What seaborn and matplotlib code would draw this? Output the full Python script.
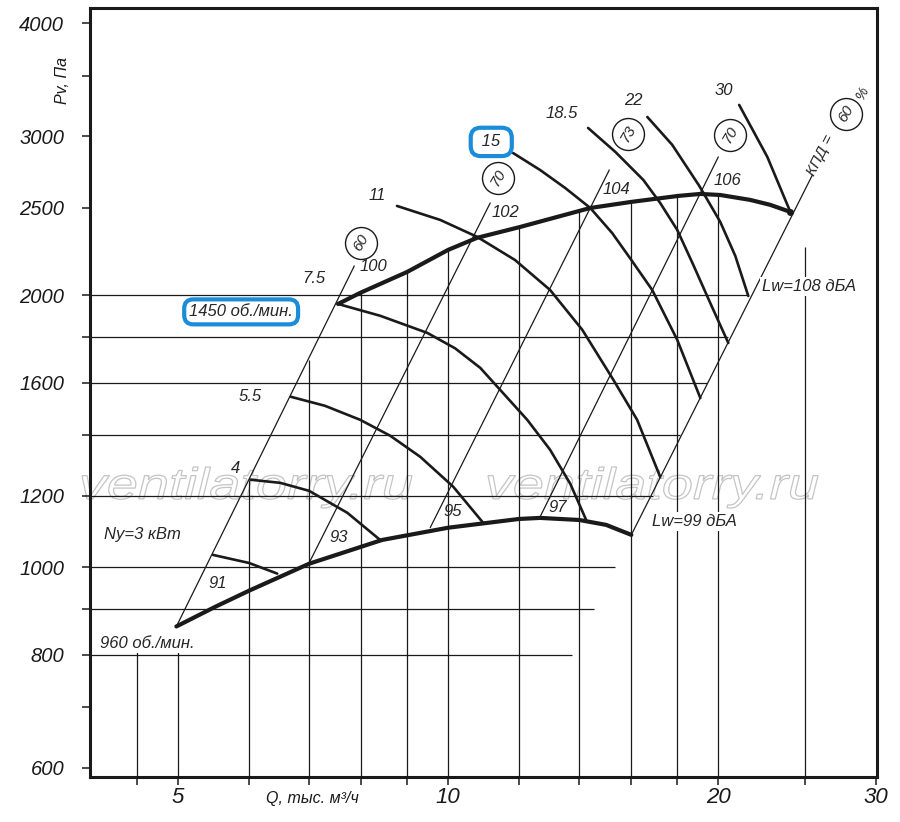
import matplotlib
matplotlib.use('Agg')
import matplotlib.pyplot as plt
import seaborn as sns
from matplotlib.ticker import FixedLocator, FixedFormatter, NullLocator
from matplotlib.textpath import TextPath
from matplotlib.patches import PathPatch
from matplotlib.font_manager import FontProperties
from matplotlib.transforms import Affine2D

# values: Q in thousand m3/h, Pv in Pa

# bold boundary at 960 rpm
q_960 = [4.98, 5.5, 6.0, 7.0, 8.44, 10.0, 12.0, 12.66, 14.0, 15.0, 16.0]
p_960 = [860, 904, 942, 1009, 1072, 1106, 1131, 1134, 1128, 1114, 1086]

# bold boundary at 1450 rpm
q_1450 = [7.54, 7.98, 9.0, 10.0, 10.77, 12.03, 14.4, 16.0, 18.05, 19.1, 20.1, 21.7, 22.85, 24.06]
p_1450 = [1956, 2012, 2122, 2245, 2315, 2380, 2498, 2537, 2576, 2589, 2582, 2550, 2518, 2473]

# motor power curves (kW)
q_3 = [5.47, 6.0, 6.45]
p_3 = [1032, 1011, 984]
q_4 = [6.02, 6.50, 7.0, 7.72, 8.40]
p_4 = [1250, 1240, 1215, 1149, 1072]
q_5_5 = [6.68, 7.29, 7.98, 8.62, 9.31, 10.13, 10.94]
p_5_5 = [1544, 1509, 1456, 1398, 1325, 1228, 1120]
q_7_5 = [7.54, 8.40, 9.48, 10.18, 10.86, 12.25, 12.99, 13.68, 14.25]
p_7_5 = [1956, 1898, 1817, 1747, 1662, 1456, 1349, 1237, 1128]
q_11 = [8.77, 9.80, 10.77, 11.87, 12.99, 14.11, 15.28, 16.24, 17.23]
p_11 = [2511, 2423, 2321, 2188, 2027, 1831, 1612, 1456, 1259]
q_15 = [11.81, 12.66, 13.50, 14.40, 15.23, 16.0, 16.88, 18.0, 19.10]
p_15 = [2874, 2752, 2629, 2498, 2344, 2188, 2027, 1785, 1539]
q_18_5 = [14.32, 15.36, 16.50, 17.23, 18.0, 18.76, 19.59, 20.52]
p_18_5 = [3063, 2881, 2683, 2530, 2362, 2160, 1961, 1771]
q_22 = [16.67, 17.77, 19.05, 20.10, 20.89, 21.60]
p_22 = [3150, 2934, 2642, 2411, 2211, 1996]
q_30 = [21.10, 22.68, 24.06]
p_30 = [3248, 2845, 2473]

# noise lines Lw, dB(A): 960 rpm end -> 1450 rpm end
lw_low = [91, 93, 95, 97, 99]
lw_high = [100, 102, 104, 106, 108]
lw_q0 = [4.98, 7.0, 9.55, 12.66, 16.0]
lw_p0 = [860, 1011, 1106, 1137, 1086]
lw_q1 = [7.86, 11.14, 15.12, 20.0, 25.46]
lw_p1 = [2155, 2530, 2752, 2845, 2717]

# drawn grid, with the extent of each line
h_grid_p = [800, 900, 1000, 1200, 1400, 1600, 1800, 2000]
h_grid_q_end = [13.75, 14.55, 15.36, 16.92, 18.14, 19.44, 20.5, 21.6]
v_grid_q = [4.5, 5, 6, 7, 8, 9, 10, 12, 14, 16, 18, 20, 25]
v_grid_p_top = [806, 806, 1250, 1696, 2013, 2122, 2245, 2380, 2485, 2537, 2576, 2582, 2262]

x_ticks = [4.5, 5, 6, 7, 8, 9, 10, 12, 14, 16, 18, 20, 25, 30]
x_ticklabels = ['', '5', '', '', '', '', '10', '', '', '', '', '20', '', '30']
y_ticks = [600, 700, 800, 900, 1000, 1200, 1400, 1600, 1800, 2000, 2500, 3000, 3500, 4000]
y_ticklabels = ['600', '', '800', '', '1000', '1200', '', '1600', '', '2000', '2500', '3000', '', '4000']

sns.set_theme(style='white')
plt.rcParams['font.family'] = ['Liberation Sans', 'DejaVu Sans']
plt.rcParams['font.style'] = 'italic'
plt.rcParams['mathtext.default'] = 'regular'

W, H = 900, 822
fig = plt.figure(figsize=(W / 100, H / 100), dpi=100)
ax = fig.add_axes([90 / W, 45 / H, 787 / W, 769 / H])
ax.set_xscale('log')
ax.set_yscale('log')
xmin, xmax, ymin, ymax = 3.99, 30.05, 586, 4158
ax.set_xlim(xmin, xmax)
ax.set_ylim(ymin, ymax)

# watermark, outlined
fp = FontProperties(family='Liberation Sans', style='italic')
tp = TextPath((0, 0), 'ventilatorry.ru', size=1, prop=fp)
bb = tp.get_extents()
for x0 in (82, 488):
    tr = Affine2D().translate(-bb.x0, -bb.y0).scale(330 / bb.width, 41 / bb.height).translate(x0, H - 508)
    wm = PathPatch(tp, transform=tr, fc='white', ec='#c4c4c4', lw=0.9, zorder=0.5, clip_on=False)
    ax.add_patch(wm)

# grid segments
ax.hlines(h_grid_p, xmin, h_grid_q_end, color='k', lw=0.9, zorder=1)
ax.vlines(v_grid_q, ymin, v_grid_p_top, color='k', lw=0.9, zorder=1)

# noise diagonals
for i in range(len(lw_low)):
    sns.lineplot(x=[lw_q0[i], lw_q1[i]], y=[lw_p0[i], lw_p1[i]], ax=ax, color='k',
                 lw=0.9, sort=False, estimator=None, zorder=2)

# power curves
power_curves = [(q_3, p_3), (q_4, p_4), (q_5_5, p_5_5), (q_7_5, p_7_5), (q_11, p_11),
                (q_15, p_15), (q_18_5, p_18_5), (q_22, p_22), (q_30, p_30)]
for q, p in power_curves:
    sns.lineplot(x=q, y=p, ax=ax, color='k', lw=1.9, sort=False, estimator=None, zorder=3)

# bold rpm boundaries
sns.lineplot(x=q_960, y=p_960, ax=ax, color='k', lw=3.0, sort=False, estimator=None, zorder=4)
sns.lineplot(x=q_1450, y=p_1450, ax=ax, color='k', lw=3.0, sort=False, estimator=None, zorder=4)
ax.plot(q_1450[-1:], p_1450[-1:], marker='o', ms=4, color='k', zorder=4)

# labels
white = dict(boxstyle='square,pad=0.12', fc='white', ec='none')
blue = dict(boxstyle='round,pad=0.3,rounding_size=0.55', fc='white', ec='#1a8cd8', lw=3)
labels = [
    ('Ny=3 кВт', 4.57, 1086, None),
    ('91', 5.53, 959, None),
    ('93', 7.56, 1078, None),
    ('95', 10.13, 1152, None),
    ('97', 13.26, 1163, None),
    ('Lw=99 дБА', 18.80, 1123, white),
    ('4', 5.79, 1285, None),
    ('5.5', 6.02, 1544, None),
    ('7.5', 7.09, 2085, None),
    ('100', 8.25, 2150, None),
    ('11', 8.33, 2576, None),
    ('102', 11.57, 2467, None),
    ('104', 15.39, 2616, None),
    ('106', 20.50, 2677, None),
    ('Lw=108 дБА', 25.26, 2043, white),
    ('18.5', 13.40, 3174, None),
    ('22', 16.08, 3281, None),
    ('30', 20.31, 3366, None),
    ('960 об./мин.', 4.62, 823, white),
]
for s, q, p, box in labels:
    ax.text(q, p, s, ha='center', va='center', fontsize=12, zorder=6, bbox=box)

ax.text(5.88, 1917, '1450 об./мин.', ha='center', va='center', fontsize=12, zorder=6, bbox=blue)
ax.text(11.17, 2956, ' 15 ', ha='center', va='center', fontsize=12, zorder=6,
        bbox=dict(blue, boxstyle='round,pad=0.4,rounding_size=0.6'))

# efficiency circles
circles = [(7.996, 2285, '60'), (11.37, 2697, '70'), (15.88, 3017, '73'),
           (20.62, 3009, '70'), (27.78, 3174, '60')]
for q, p, s in circles:
    ax.plot([q], [p], marker='o', ms=23, mfc='white', mec='k', mew=1.0, ls='none', zorder=5)
    ax.text(q, p, s, rotation=60, rotation_mode='anchor', ha='center', va='center',
            fontsize=11, zorder=6)
ax.text(25.98, 2859, 'КПД =', rotation=63, rotation_mode='anchor', ha='center', va='center',
        fontsize=11, zorder=6)
ax.text(28.94, 3340, '%', rotation=63, rotation_mode='anchor', ha='center', va='center',
        fontsize=10, zorder=6)

# axes
ax.xaxis.set_major_locator(FixedLocator(x_ticks))
ax.xaxis.set_major_formatter(FixedFormatter(x_ticklabels))
ax.xaxis.set_minor_locator(NullLocator())
ax.yaxis.set_major_locator(FixedLocator(y_ticks))
ax.yaxis.set_major_formatter(FixedFormatter(y_ticklabels))
ax.yaxis.set_minor_locator(NullLocator())
ax.tick_params(axis='both', which='major', direction='out', length=5.5, width=1.1, colors='k',
               bottom=True, left=True)
ax.tick_params(axis='x', labelsize=16, pad=2)
ax.tick_params(axis='y', labelsize=14.5, pad=13)
for sp in ax.spines.values():
    sp.set_linewidth(2.2)
    sp.set_color('k')

ax.set_ylabel('Pv, Па', fontsize=11.5, color='k')
ax.yaxis.set_label_coords(-0.025, 0.906)
ax.set_xlabel('Q, тыс. м³/ч', fontsize=11.5, color='k')
ax.xaxis.set_label_coords(0.283, -0.018)

fig.savefig('out.png', dpi=100)
